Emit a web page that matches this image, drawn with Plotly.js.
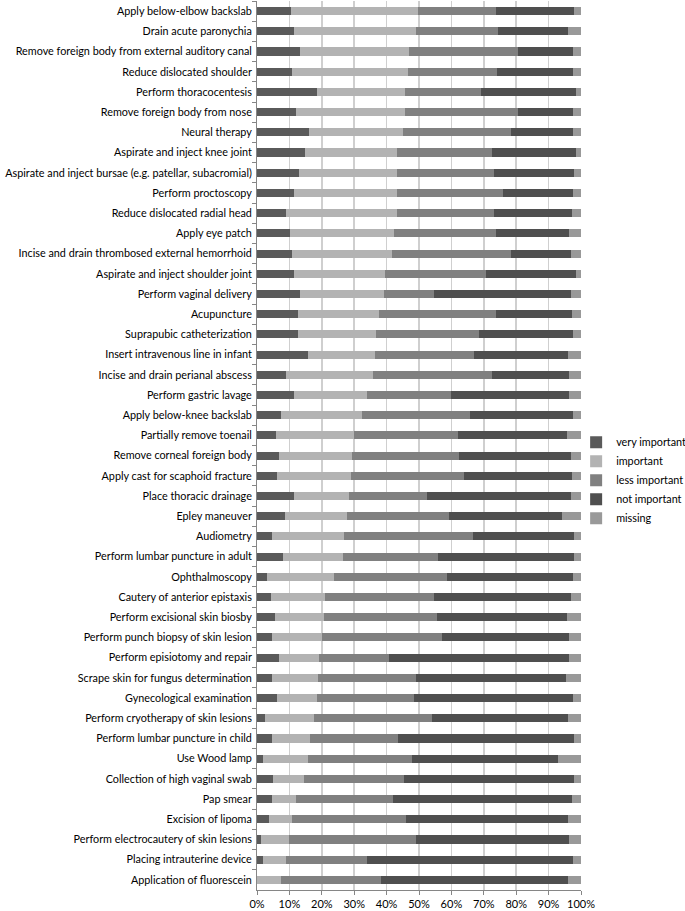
<!DOCTYPE html>
<html>
<head>
<meta charset="utf-8">
<script src="https://cdn.plot.ly/plotly-3.0.1.min.js"></script>
<style>html,body{margin:0;padding:0;background:#fff;}#chart{width:685px;height:911px;}</style>
</head>
<body>
<div id="chart"></div>
<script>
const procedures = [
  "Apply below-elbow backslab",
  "Drain acute paronychia",
  "Remove foreign body from external auditory canal",
  "Reduce dislocated shoulder",
  "Perform thoracocentesis",
  "Remove foreign body from nose",
  "Neural therapy",
  "Aspirate and inject knee joint",
  "Aspirate and inject bursae (e.g. patellar, subacromial)",
  "Perform proctoscopy",
  "Reduce dislocated radial head",
  "Apply eye patch",
  "Incise and drain thrombosed external hemorrhoid",
  "Aspirate and inject shoulder joint",
  "Perform vaginal delivery",
  "Acupuncture",
  "Suprapubic catheterization",
  "Insert intravenous line in infant",
  "Incise and drain perianal abscess",
  "Perform gastric lavage",
  "Apply below-knee backslab",
  "Partially remove toenail",
  "Remove corneal foreign body",
  "Apply cast for scaphoid fracture",
  "Place thoracic drainage",
  "Epley maneuver",
  "Audiometry",
  "Perform lumbar puncture in adult",
  "Ophthalmoscopy",
  "Cautery of anterior epistaxis",
  "Perform excisional skin biosby",
  "Perform punch biopsy of skin lesion",
  "Perform episiotomy and repair",
  "Scrape skin for fungus determination",
  "Gynecological examination",
  "Perform cryotherapy of skin lesions",
  "Perform lumbar puncture in child",
  "Use Wood lamp",
  "Collection of high vaginal swab",
  "Pap smear",
  "Excision of lipoma",
  "Perform electrocautery of skin lesions",
  "Placing intrauterine device",
  "Application of fluorescein"
];

const veryImportant = [10.5,11.5,13.4,10.8,18.4,12.1,16.2,14.8,13.1,11.5,9.0,10.1,10.8,11.5,13.4,12.5,12.5,15.8,9.0,11.5,7.5,5.8,6.8,6.1,11.5,8.6,4.7,7.9,3.2,4.4,5.4,4.7,6.9,4.7,6.1,2.5,4.7,1.7,5.0,4.7,3.6,1.1,1.7,0.0];
const important = [39.1,37.7,33.5,35.7,27.3,33.6,28.8,28.5,30.2,31.8,34.3,32.3,30.9,28.1,25.9,25.2,24.1,20.5,26.9,22.6,24.8,24.0,22.6,23.0,16.9,19.3,22.1,18.6,20.7,16.7,15.3,15.5,12.3,14.2,12.4,15.2,11.6,13.9,9.6,7.4,7.3,8.8,7.3,7.3];
const lessImportant = [24.1,25.2,33.6,27.6,23.3,34.8,33.3,29.3,29.8,32.5,29.8,31.3,36.6,31.1,15.2,36.0,32.0,30.8,36.7,25.8,33.5,32.3,33.0,34.7,24.1,31.3,39.9,29.4,34.6,33.4,34.9,36.8,21.5,30.1,30.1,36.4,27.2,32.3,30.8,29.9,35.1,39.1,25.1,31.1];
const notImportant = [24.1,21.7,17.0,23.4,29.4,17.0,19.2,25.8,24.7,21.7,24.0,22.7,18.6,27.7,42.3,23.4,28.9,29.0,23.8,36.5,31.7,33.6,34.4,33.3,44.3,35.0,31.1,41.9,39.0,42.3,40.0,39.4,55.7,46.3,48.9,42.0,54.2,44.9,52.4,55.1,50.1,47.4,63.4,57.7];
const missing = [2.2,3.9,2.5,2.5,1.6,2.5,2.5,1.6,2.2,2.5,2.9,3.6,3.1,1.6,3.2,2.9,2.5,3.9,3.6,3.6,2.5,4.3,3.2,2.9,3.2,5.8,2.2,2.2,2.5,3.2,4.4,3.6,3.6,4.7,2.5,3.9,2.3,7.2,2.2,2.9,3.9,3.6,2.5,3.9];

const seriesNames = ["very important","important","less important","not important","missing"];
const seriesColors = ["#5a5a5a","#b3b3b3","#808080","#4f4f4f","#999999"];
const seriesValues = [veryImportant, important, lessImportant, notImportant, missing];

const xTickVals = [0,10,20,30,40,50,60,70,80,90,100];

const traces = seriesNames.map((name, i) => ({
  type: 'bar',
  orientation: 'h',
  name: name,
  y: procedures,
  x: seriesValues[i],
  marker: {color: seriesColors[i], line: {width: 0}},
  hoverinfo: 'name+x'
}));

const layout = {
  width: 685,
  height: 911,
  margin: {l: 257, r: 104, t: 1, b: 21, pad: 0, autoexpand: false},
  paper_bgcolor: '#ffffff',
  plot_bgcolor: '#ffffff',
  barmode: 'stack',
  bargap: 0.6,
  font: {family: 'Lato, "Open Sans", sans-serif', size: 10.8, color: '#000000'},
  showlegend: true,
  legend: {
    x: 0.985, xanchor: 'left',
    y: 0.52, yanchor: 'top',
    font: {size: 10.8, color: '#000000'},
    traceorder: 'normal',
    itemwidth: 30,
    tracegroupgap: 0,
    bgcolor: 'rgba(0,0,0,0)'
  },
  xaxis: {
    range: [0, 100],
    tickvals: xTickVals,
    ticktext: xTickVals.map(v => v + '%'),
    showgrid: true,
    gridcolor: '#cfcfcf',
    gridwidth: 1.5,
    zeroline: false,
    showline: true,
    linecolor: '#868686',
    ticks: 'outside',
    ticklen: 4,
    tickcolor: '#868686',
    tickfont: {size: 11, color: '#000000'},
    automargin: false,
    fixedrange: true
  },
  yaxis: {
    type: 'category',
    autorange: 'reversed',
    showgrid: false,
    zeroline: false,
    showline: true,
    linecolor: '#868686',
    ticks: 'outside',
    tickson: 'boundaries',
    ticklen: 4,
    tickcolor: '#868686',
    tickfont: {size: 10.8, color: '#000000'},
    ticklabelstandoff: 2,
    automargin: false,
    fixedrange: true
  }
};

Plotly.newPlot('chart', traces, layout, {displayModeBar: false, staticPlot: true});
</script>
</body>
</html>
